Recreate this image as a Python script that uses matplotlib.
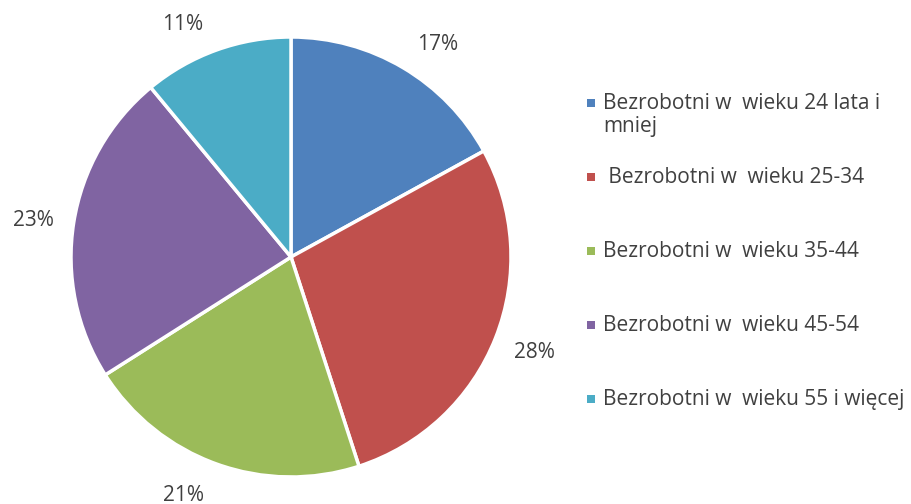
import matplotlib
matplotlib.use("Agg")
import numpy as np
import matplotlib.pyplot as plt
from matplotlib.patches import Rectangle

plt.rcParams['font.family'] = ['Open Sans', 'DejaVu Sans']

categories = [
    "Bezrobotni w  wieku 24 lata i\nmniej",
    " Bezrobotni w  wieku 25-34",
    "Bezrobotni w  wieku 35-44",
    "Bezrobotni w  wieku 45-54",
    "Bezrobotni w  wieku 55 i więcej",
]
shares = [17, 28, 21, 23, 11]
colors = ["#4F81BD", "#C0504D", "#9BBB59", "#8064A2", "#4BACC6"]
text_color = "#404040"
font_size = 15

W, H = 912, 504
fig = plt.figure(figsize=(W / 100, H / 100), dpi=100)

cx, cy, r = 291, 257, 220
ax = fig.add_axes([(cx - r) / W, (H - cy - r) / H, 2 * r / W, 2 * r / H])
wedges, _ = ax.pie(
    shares,
    colors=colors,
    startangle=90,
    counterclock=False,
    radius=1.0,
    wedgeprops=dict(edgecolor="white", linewidth=2.5),
)
ax.set_xlim(-1, 1)
ax.set_ylim(-1, 1)
ax.set_aspect("equal")
ax.axis("off")

# percentage labels just outside each wedge's outer edge
for w, v in zip(wedges, shares):
    mid = np.deg2rad((w.theta1 + w.theta2) / 2)
    c, s = np.cos(mid), np.sin(mid)
    dx = 30 * np.sign(c) + 10 * c
    dy = 30 * s - 3
    ax.annotate(f"{v}%", xy=(c, s), xytext=(dx, dy), textcoords="offset pixels",
                ha="center", va="center", color=text_color, fontsize=font_size)

# legend: square swatch + label, entries evenly stepped from the top
fs_px = font_size * 100 / 72
x_box, x_txt = 587 / W, 603 / W
y_first, step, box = 103, 74, 8
for i, (lab, col) in enumerate(zip(categories, colors)):
    y = y_first + i * step
    fig.patches.append(Rectangle((x_box, 1 - (y + box / 2) / H), box / W, box / H,
                                 transform=fig.transFigure, facecolor=col,
                                 edgecolor="none"))
    fig.text(x_txt, 1 - (y - 0.5 * fs_px) / H, lab, ha="left", va="top",
             color=text_color, fontsize=font_size, linespacing=1.15)

fig.savefig("out.png", dpi=100)
